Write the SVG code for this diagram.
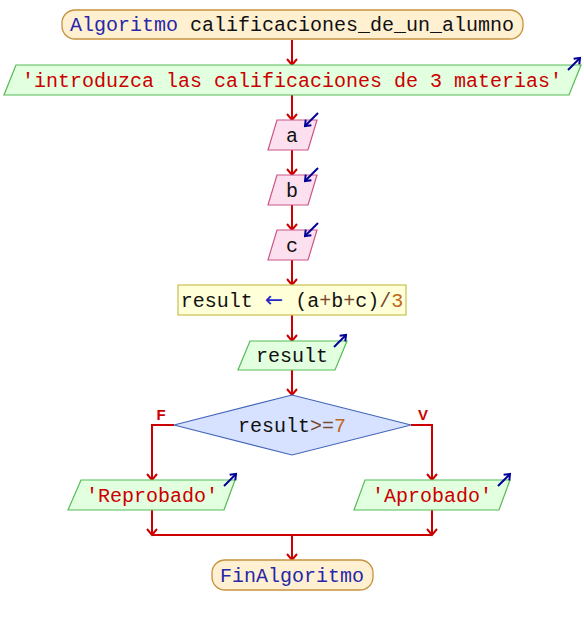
<svg xmlns="http://www.w3.org/2000/svg" width="584" height="625" viewBox="0 0 584 625">
  <style>
    text { font-family: "Liberation Mono", "Courier New", monospace; font-size: 20px; text-anchor: middle; }
    .term { fill: #fff0d2; stroke: #c8913c; stroke-width: 1.3; }
    .out { fill: #e2ffe0; stroke: #55bb55; stroke-width: 1.2; }
    .inp { fill: #fde0ef; stroke: #cc5588; stroke-width: 1.2; }
    .asg { fill: #ffffd8; stroke: #c8c050; stroke-width: 1.2; }
    .dec { fill: #d6e2ff; stroke: #4466bb; stroke-width: 1.2; }
    .flow { fill: none; stroke: #cc0000; stroke-width: 2; }
    .io { fill: none; stroke: #000099; stroke-width: 2; }
    .kw { fill: #2828a8; }
    .id { fill: #111111; }
    .str { fill: #cc0000; }
    .op { fill: #7a4a30; }
    .num { fill: #c06820; }
    .arw { fill: #2828c8; font-family: "DejaVu Sans", sans-serif; font-size: 22px; }
    .lbl { font-family: "Liberation Sans", Arial, sans-serif; font-size: 15px; font-weight: bold; fill: #cc0000; }
  </style>
  <defs>
    <marker id="head" markerUnits="userSpaceOnUse" markerWidth="14" markerHeight="14" refX="0" refY="0" viewBox="-8 -7 10 14" orient="auto">
      <path d="M-6,-5 L0,0 L-6,5" fill="none" stroke="#cc0000" stroke-width="2"/>
    </marker>
    <marker id="iohead" markerUnits="userSpaceOnUse" markerWidth="12" markerHeight="12" refX="0" refY="0" viewBox="-7 -6 9 12" orient="auto">
      <path d="M-5,-4 L0,0 L-5,4" fill="none" stroke="#000099" stroke-width="2"/>
    </marker>
  </defs>

  <!-- connectors -->
  <g id="connectors">
    <line class="flow" x1="292" y1="40" x2="292" y2="65" marker-end="url(#head)"/>
    <line class="flow" x1="292" y1="95" x2="292" y2="120" marker-end="url(#head)"/>
    <line class="flow" x1="292" y1="150" x2="292" y2="175" marker-end="url(#head)"/>
    <line class="flow" x1="292" y1="205" x2="292" y2="230" marker-end="url(#head)"/>
    <line class="flow" x1="292" y1="260" x2="292" y2="285" marker-end="url(#head)"/>
    <line class="flow" x1="292" y1="315" x2="292" y2="341" marker-end="url(#head)"/>
    <line class="flow" x1="292" y1="370" x2="292" y2="395" marker-end="url(#head)"/>
    <polyline class="flow" points="174,425 152,425 152,480" marker-end="url(#head)"/>
    <polyline class="flow" points="411,425 432,425 432,480" marker-end="url(#head)"/>
    <line class="flow" x1="152" y1="510" x2="152" y2="535" marker-end="url(#head)"/>
    <line class="flow" x1="432" y1="510" x2="432" y2="535" marker-end="url(#head)"/>
    <line class="flow" x1="152" y1="535" x2="432" y2="535"/>
    <line class="flow" x1="292" y1="535" x2="292" y2="560" marker-end="url(#head)"/>
    <text class="lbl" x="161" y="420">F</text>
    <text class="lbl" x="423" y="420">V</text>
  </g>

  <g id="inicio">
    <rect class="term" x="62" y="10" width="461" height="29" rx="13"/>
    <text x="292" y="31"><tspan class="kw">Algoritmo</tspan><tspan class="id"> calificaciones_de_un_alumno</tspan></text>
  </g>

  <g id="escribir_mensaje">
    <polygon class="out" points="16,65 581,65 569,95 4,95"/>
    <text class="str" x="292" y="87">'introduzca las calificaciones de 3 materias'</text>
    <line class="io" x1="568" y1="70" x2="580" y2="58" marker-end="url(#iohead)"/>
  </g>

  <g id="leer_a">
    <polygon class="inp" points="277,120 317,120 308,150 268,150"/>
    <text class="id" x="292" y="142">a</text>
    <line class="io" x1="318" y1="113" x2="305" y2="126" marker-end="url(#iohead)"/>
  </g>

  <g id="leer_b">
    <polygon class="inp" points="277,175 317,175 308,205 268,205"/>
    <text class="id" x="292" y="197">b</text>
    <line class="io" x1="318" y1="168" x2="305" y2="181" marker-end="url(#iohead)"/>
  </g>

  <g id="leer_c">
    <polygon class="inp" points="277,230 317,230 308,260 268,260"/>
    <text class="id" x="292" y="252">c</text>
    <line class="io" x1="318" y1="223" x2="305" y2="236" marker-end="url(#iohead)"/>
  </g>

  <g id="asignar_result">
    <rect class="asg" x="178" y="285" width="228" height="30"/>
    <text x="292" y="307"><tspan class="id">result </tspan><tspan class="arw">←</tspan><tspan class="id"> (a</tspan><tspan class="op">+</tspan><tspan class="id">b</tspan><tspan class="op">+</tspan><tspan class="id">c)</tspan><tspan class="op">/</tspan><tspan class="num">3</tspan></text>
  </g>

  <g id="escribir_result">
    <polygon class="out" points="250,341 347,341 335,370 238,370"/>
    <text class="id" x="292" y="362">result</text>
    <line class="io" x1="334" y1="347" x2="346" y2="335" marker-end="url(#iohead)"/>
  </g>

  <g id="si_result">
    <polygon class="dec" points="292,395 411,425 292,455 174,425"/>
    <text x="292" y="432"><tspan class="id">result</tspan><tspan class="op">&gt;=</tspan><tspan class="num">7</tspan></text>
  </g>

  <g id="escribir_reprobado">
    <polygon class="out" points="81,480 235,480 224,510 68,510"/>
    <text class="str" x="152" y="502">'Reprobado'</text>
    <line class="io" x1="224" y1="486" x2="236" y2="474" marker-end="url(#iohead)"/>
  </g>

  <g id="escribir_aprobado">
    <polygon class="out" points="365,480 510,480 499,510 354,510"/>
    <text class="str" x="432" y="502">'Aprobado'</text>
    <line class="io" x1="498" y1="486" x2="510" y2="474" marker-end="url(#iohead)"/>
  </g>

  <g id="fin">
    <rect class="term" x="212" y="560" width="161" height="30" rx="13"/>
    <text class="kw" x="292" y="582">FinAlgoritmo</text>
  </g>
</svg>
